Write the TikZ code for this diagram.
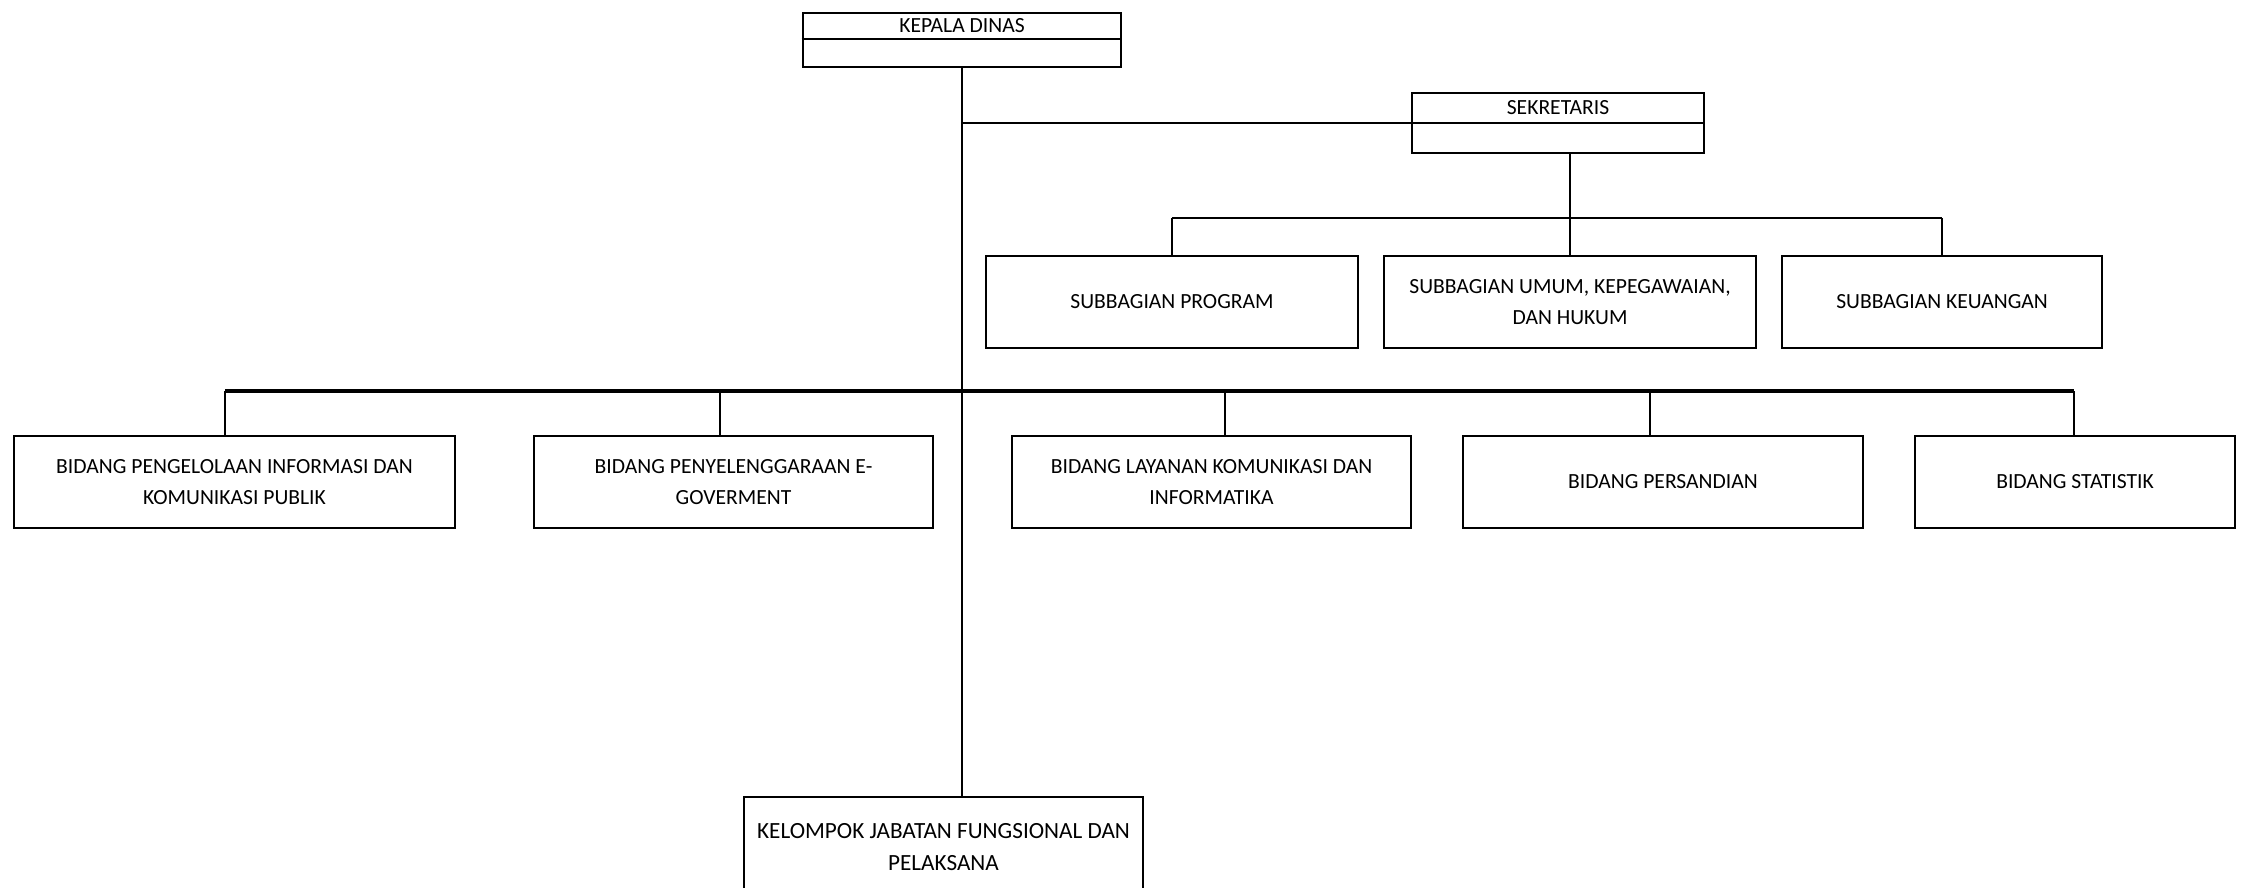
\documentclass[tikz,border=0pt]{standalone}
\usepackage{fontspec}
\setmainfont{Carlito}
\tikzset{
  box/.style={draw, line width=1.4pt, inner sep=0pt, align=center, font=\fontsize{10.8}{15.5}\selectfont},
  lbl/.style={inner sep=0pt, font=\fontsize{10.8}{15.5}\selectfont},
  mainline/.style={line width=1.4pt},
  drop/.style={line width=1pt},
}
\newcommand{\obox}[6]{\node[box, minimum width={(#4-#2)*0.5pt}, minimum height={(#5-#3)*0.5pt}] (#1) at ({(#2+#4)/2},{(#3+#5)/2}) {#6};}
\begin{document}
\begin{tikzpicture}[x=0.5pt,y=-0.5pt]
\useasboundingbox (0,0) rectangle (2244,888);
\clip (0,0) rectangle (2244,888);
\fill[white] (0,0) rectangle (2244,888);
% Kepala Dinas
\obox{kd}{803}{13}{1121}{67}{}
\node[lbl] (kdt) at (962,26) {KEPALA DINAS};
\coordinate (kdd) at (0,39);
\draw[line width=1.4pt] (kd.west |- kdd) -- (kd.east |- kdd);
% Sekretaris
\obox{sk}{1412}{93}{1704}{153}{}
\node[lbl] (skt) at (1558,108) {SEKRETARIS};
\draw[line width=1.4pt] (sk.west) -- (sk.east);
% Subbagian
\obox{sp}{986}{256}{1358}{348}{SUBBAGIAN PROGRAM}
\obox{su}{1384}{256}{1756}{348}{SUBBAGIAN UMUM, KEPEGAWAIAN,\\DAN HUKUM}
\obox{sku}{1782}{256}{2102}{348}{SUBBAGIAN KEUANGAN}
% Bidang
\obox{b1}{14}{436}{455}{528}{BIDANG PENGELOLAAN INFORMASI DAN\\KOMUNIKASI PUBLIK}
\obox{b2}{534}{436}{933}{528}{BIDANG PENYELENGGARAAN E-\\GOVERMENT}
\obox{b3}{1012}{436}{1411}{528}{BIDANG LAYANAN KOMUNIKASI DAN\\INFORMATIKA}
\obox{b4}{1463}{436}{1863}{528}{BIDANG PERSANDIAN}
\obox{b5}{1915}{436}{2235}{528}{BIDANG STATISTIK}
% Kelompok
\node[box, minimum width={399*0.5pt}, minimum height={100*0.5pt}, font=\fontsize{11.6}{16}\selectfont] (kel) at (943.5,847) {KELOMPOK JABATAN FUNGSIONAL DAN\\PELAKSANA};
% main line
\draw[mainline] (kd.south) -- (kd.south |- kel.north);
\draw[mainline] (kd.south |- sk.west) -- (sk.west);
% subbagian connectors
\coordinate (sb) at (0,218);
\draw[mainline] (sk.south -| su.north) -- (su.north);
\draw[mainline] (sp.north |- sb) -- (sku.north |- sb);
\draw[drop] (sp.north |- sb) -- (sp.north);
\draw[drop] (sku.north |- sb) -- (sku.north);
% bidang connectors
\coordinate (j1) at (225,391);
\coordinate (j2) at (720,391);
\coordinate (j3) at (1225,391);
\coordinate (j4) at (1650,391);
\coordinate (j5) at (2074,391);
\draw[line width=1.8pt] (j1) -- (j5);
\draw[drop] (j1) -- (j1 |- b1.north);
\draw[drop] (j2) -- (j2 |- b2.north);
\draw[drop] (j3) -- (j3 |- b3.north);
\draw[drop] (j4) -- (j4 |- b4.north);
\draw[drop] (j5) -- (j5 |- b5.north);
\end{tikzpicture}
\end{document}
